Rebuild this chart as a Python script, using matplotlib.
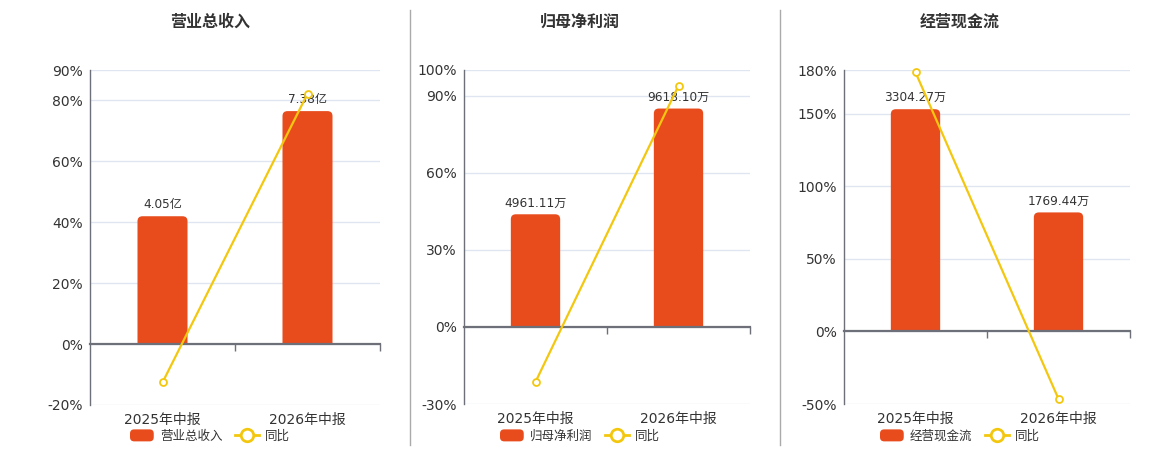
import matplotlib
matplotlib.use("Agg")
import matplotlib.pyplot as plt
from matplotlib.path import Path
from matplotlib.patches import PathPatch, FancyBboxPatch
from matplotlib.lines import Line2D
from matplotlib.legend_handler import HandlerPatch
import matplotlib.transforms as mtransforms

plt.rcParams['font.family'] = ['DejaVu Sans', 'Noto Sans CJK SC']

# ---------------- data ----------------
categories = ['2025年中报', '2026年中报']
titles = ['营业总收入', '归母净利润', '经营现金流']
series_names = ['营业总收入', '归母净利润', '经营现金流']
yoy_name = '同比'

revenue = [4.05, 7.38]            # 亿
revenue_labels = ['4.05亿', '7.38亿']
revenue_yoy = [-12.6, 82.2]       # %

profit = [4961.11, 9618.10]       # 万
profit_labels = ['4961.11万', '9618.10万']
profit_yoy = [-21.4, 93.9]

cashflow = [3304.27, 1769.44]     # 万
cashflow_labels = ['3304.27万', '1769.44万']
cashflow_yoy = [178.4, -46.5]

revenue_ticks = [-20, 0, 20, 40, 60, 80, 90]
profit_ticks = [-30, 0, 30, 60, 90, 100]
cashflow_ticks = [-50, 0, 50, 100, 150, 180]

# ---------------- style ----------------
BAR = '#E84C1D'
LINE = '#F4C70F'
GRID = '#E0E6F1'
AXIS = '#6E7079'
TXT = '#333333'

W, H = 1160, 450
fig = plt.figure(figsize=(W / 100, H / 100), dpi=100)

panels = [
    dict(bars=revenue, labels=revenue_labels, yoy=revenue_yoy, ticks=revenue_ticks,
         box=(90, 70, 380, 405), center=210, title=titles[0], name=series_names[0]),
    dict(bars=profit, labels=profit_labels, yoy=profit_yoy, ticks=profit_ticks,
         box=(464, 70, 750, 404), center=580, title=titles[1], name=series_names[1]),
    dict(bars=cashflow, labels=cashflow_labels, yoy=cashflow_yoy, ticks=cashflow_ticks,
         box=(844, 70, 1130, 404), center=960, title=titles[2], name=series_names[2]),
]


class HandlerRound(HandlerPatch):
    def create_artists(self, legend, orig_handle, xdescent, ydescent, width, height, fontsize, trans):
        p = FancyBboxPatch((-xdescent, -ydescent), width, height,
                           boxstyle='round,pad=0,rounding_size=3',
                           fc=orig_handle.get_facecolor(), ec='none', transform=trans)
        return [p]


def rounded_top_bar(ax, rect, rx, ry, color):
    x0 = rect.get_x()
    w = rect.get_width()
    h = rect.get_height()
    x1 = x0 + w
    verts = [(x0, 0), (x0, h - ry), (x0, h), (x0 + rx, h), (x1 - rx, h), (x1, h), (x1, h - ry),
             (x1, 0), (x0, 0)]
    codes = [Path.MOVETO, Path.LINETO, Path.CURVE3, Path.CURVE3, Path.LINETO, Path.CURVE3,
             Path.CURVE3, Path.LINETO, Path.CLOSEPOLY]
    ax.add_patch(PathPatch(Path(verts, codes), fc=color, ec='none', zorder=2))


x = list(range(len(categories)))
for p in panels:
    l, t, r, b = p['box']
    pos = [l / W, 1 - b / H, (r - l) / W, (b - t) / H]
    ymin, ymax = p['ticks'][0], p['ticks'][-1]

    # base axis: grid + y ticks
    ax = fig.add_axes(pos)
    ax.set_xlim(-0.5, len(categories) - 0.5)
    ax.set_ylim(ymin, ymax)
    ax.set_yticks(p['ticks'])
    ax.set_yticklabels([f'{v}%' for v in p['ticks']])
    ax.tick_params(axis='y', length=0, pad=5, labelsize=10, labelcolor=TXT)
    ax.tick_params(axis='x', length=0, labelbottom=False, labeltop=False)
    ax.grid(axis='y', color=GRID, lw=1)
    ax.set_axisbelow(True)
    for s in ['top', 'right', 'bottom']:
        ax.spines[s].set_visible(False)
    ax.spines['left'].set_color(AXIS)
    ax.spines['left'].set_linewidth(1)
    for i, c in enumerate(categories):
        ax.text(i, -0.045, c, transform=mtransforms.blended_transform_factory(ax.transData, ax.transAxes),
                ha='center', va='center', fontsize=10, color=TXT)

    # bar axis
    axb = ax.twinx()
    btop = max(p['bars']) / 0.85
    bbot = btop * ymin / ymax
    axb.set_ylim(bbot, btop)
    axb.set_xlim(-0.5, len(categories) - 0.5)
    axb.axis('off')
    rects = axb.bar(x, p['bars'], width=0.345, color=BAR)
    px_per_x = (r - l) / (len(categories))
    px_per_y = (b - t) / (btop - bbot)
    for rect in rects:
        rect.set_visible(False)
        rounded_top_bar(axb, rect, 5 / px_per_x, 5 / px_per_y, BAR)
    for i, (v, lab) in enumerate(zip(p['bars'], p['labels'])):
        axb.annotate(lab, (i, v), xytext=(0, 3.5), textcoords='offset points',
                     ha='center', va='bottom', fontsize=8.7, color=TXT)

    # line axis
    axl = ax.twinx()
    axl.set_ylim(ymin, ymax)
    axl.set_xlim(-0.5, len(categories) - 0.5)
    axl.yaxis.set_visible(False)
    axl.xaxis.set_visible(True)
    for s in ['top', 'right', 'left']:
        axl.spines[s].set_visible(False)
    axl.spines['bottom'].set_position(('data', 0))
    axl.spines['bottom'].set_color(AXIS)
    axl.spines['bottom'].set_linewidth(1.6)
    axl.set_xticks([i + 0.5 for i in range(len(categories))])
    axl.tick_params(axis='x', direction='out', length=5, width=1, color=AXIS,
                    labelbottom=False, labeltop=False, top=False, bottom=True)
    axl.plot(x, p['yoy'], color=LINE, lw=1.6, marker='o', ms=5, mfc='white', mec=LINE, mew=1.3,
             clip_on=False, zorder=3)

    # title
    fig.text(p['center'] / W, 1 - 22 / H, p['title'], ha='center', va='center',
             fontsize=11.5, fontweight='bold', color=TXT)

    # legend
    hb = FancyBboxPatch((0, 0), 1, 1, fc=BAR)
    hl = Line2D([], [], color=LINE, lw=2, marker='o', ms=9, mfc='white', mec=LINE, mew=2)
    fig.legend([hb, hl], [p['name'], yoy_name], loc='center',
               bbox_to_anchor=(p['center'] / W, 1 - 436 / H), ncol=2, frameon=False,
               fontsize=9, labelcolor=TXT, handlelength=1.9, handleheight=1.1,
               handletextpad=0.5, columnspacing=1.0, borderpad=0, borderaxespad=0,
               handler_map={FancyBboxPatch: HandlerRound()})

# separators
for sx in [410, 780]:
    fig.add_artist(Line2D([sx / W, sx / W], [1 - 445 / H, 1 - 10 / H], transform=fig.transFigure,
                          color='#AAAAAA', lw=1))

fig.savefig('out.png', dpi=100)
